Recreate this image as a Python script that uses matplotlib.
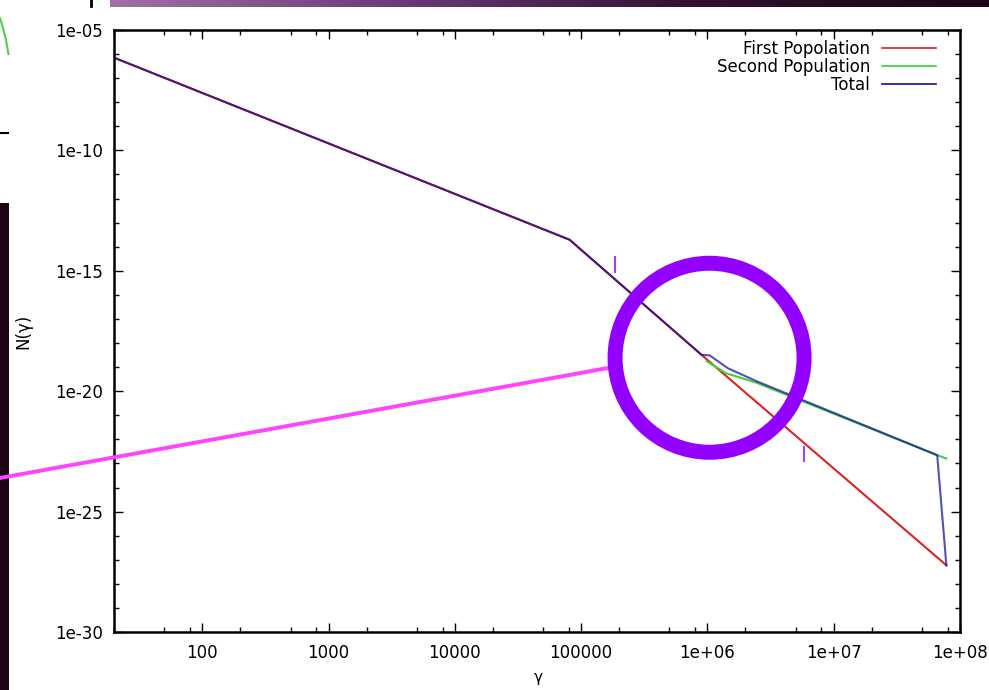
import numpy as np
import matplotlib
matplotlib.use('Agg')
import matplotlib.pyplot as plt
from matplotlib.patches import Ellipse, Rectangle
from matplotlib.lines import Line2D
from matplotlib.colors import LinearSegmentedColormap

# values: gamma vs N(gamma)
first_x = [20, 8.1e4, 9.0e5, 7.8e7]
first_y = [7.1e-7, 1.95e-14, 3.2e-19, 5.9e-28]

second_x = [9.9e5, 1.4e6, 2.45e6, 6.6e7, 7.8e7]
second_y = [1.74e-19, 5.6e-20, 2.24e-20, 2.2e-23, 1.6e-23]

total_x = [20, 8.1e4, 9.0e5, 1.04e6, 1.45e6, 2.45e6, 6.6e7, 7.8e7]
total_y = [7.1e-7, 1.95e-14, 3.2e-19, 3.1e-19, 9.0e-20, 2.6e-20, 2.2e-23, 5.9e-28]

labels = ['First Popolation', 'Second Population', 'Total']

xticks = [1e2, 1e3, 1e4, 1e5, 1e6, 1e7, 1e8]
xticklabels = ['100', '1000', '10000', '100000', '1e+06', '1e+07', '1e+08']
yticks = [1e-30, 1e-25, 1e-20, 1e-15, 1e-10, 1e-5]
yticklabels = ['1e-30', '1e-25', '1e-20', '1e-15', '1e-10', '1e-05']

# spot the circle highlights (data coords)
circle_at = (1.04e6, 2.45e-19)

plt.rcParams['font.family'] = ['DejaVu Sans']
W, H = 989, 690
fig = plt.figure(figsize=(W / 100, H / 100), dpi=100)
fig.patch.set_facecolor('white')

ax = fig.add_axes([114 / W, 58 / H, 846 / W, 602 / H])
ax.set_xscale('log')
ax.set_yscale('log')
ax.set_xlim(20, 1e8)
ax.set_ylim(1e-30, 1e-5)

ax.plot(first_x, first_y, color='#dd2222', lw=1.5, label=labels[0], zorder=2)
ax.plot(second_x, second_y, color='#40d040', lw=1.5, label=labels[1], zorder=3)
ax.plot(total_x, total_y, color='#10109a', lw=1.5, alpha=0.72, label=labels[2], zorder=4)

ax.set_xticks(xticks)
ax.set_xticklabels(xticklabels)
ax.set_yticks(yticks)
ax.set_yticklabels(yticklabels)
ax.xaxis.set_minor_locator(matplotlib.ticker.LogLocator(base=10, subs=(2, 5, 8), numticks=30))
ax.xaxis.set_minor_formatter(matplotlib.ticker.NullFormatter())
ax.yaxis.set_minor_locator(matplotlib.ticker.FixedLocator(
    [10.0 ** k for k in range(-30, -4) if k % 5 != 0]))
ax.yaxis.set_minor_formatter(matplotlib.ticker.NullFormatter())

ax.tick_params(which='both', direction='in', top=True, right=True, width=1.0, labelsize=12)
ax.tick_params(which='major', length=6.5)
ax.tick_params(which='minor', length=3.5)
ax.tick_params(axis='y', pad=8)
ax.tick_params(axis='x', pad=9)
for s in ax.spines.values():
    s.set_linewidth(1.8)

ax.set_ylabel('N(γ)', fontsize=12)
ax.yaxis.set_label_coords((32 - 114) / 846, (632 - 331) / 602)
ax.set_xlabel('γ', fontsize=11)
ax.xaxis.set_label_coords((538 - 114) / 846, (632 - 670) / 602)

leg = ax.legend(loc='upper right', bbox_to_anchor=((936 - 114) / 846, (632 - 40) / 602),
                frameon=False, markerfirst=False, fontsize=12, borderpad=0,
                borderaxespad=0, labelspacing=0.0, handlelength=3.25, handletextpad=0.7)
for h in leg.legend_handles:
    h.set_alpha(1)
    h.set_linewidth(1.2)

# slide decorations around the chart
bar = fig.add_axes([110 / W, 1 - 7 / H, (W - 110) / W, 7 / H])
grad = LinearSegmentedColormap.from_list('bar', ['#a070a8', '#6a3a78', '#30102e', '#1a0512'])
bar.imshow(np.linspace(0, 1, 256)[None, :], aspect='auto', cmap=grad)
bar.set_axis_off()

fig.add_artist(Rectangle((0, 0), 9 / W, (H - 203) / H, transform=fig.transFigure,
                         facecolor='#1c0618', edgecolor='none'))
fig.add_artist(Line2D([0, 3 / W, 6 / W, 8.5 / W], [1 - 18 / H, 1 - 28 / H, 1 - 40 / H, 1 - 54 / H],
                      transform=fig.transFigure, color='#50d050', lw=1.5))
fig.add_artist(Line2D([0, 8 / W], [1 - 133 / H, 1 - 133 / H], transform=fig.transFigure,
                      color='black', lw=1.5))
fig.add_artist(Line2D([91 / W, 91 / W], [1, 1 - 6 / H], transform=fig.transFigure,
                      color='black', lw=2))

# purple ring + pointer line
fig.canvas.draw()
cx, cy = fig.transFigure.inverted().transform(ax.transData.transform(circle_at))
r = 94.5
fig.add_artist(Ellipse((cx, cy), 2 * r / W, 2 * r / H, transform=fig.transFigure,
                       facecolor='none', edgecolor='#9400ff', lw=15 * 72 / 100, zorder=10))
fig.add_artist(Line2D([0, 608 / W], [1 - 478 / H, 1 - 368 / H], transform=fig.transFigure,
                      color='#ff44ff', lw=3 * 72 / 100 * 1.3, zorder=9))
for px, y0, y1 in [(615, 257, 272), (804, 447, 461)]:
    fig.add_artist(Line2D([px / W, px / W], [1 - y0 / H, 1 - y1 / H], transform=fig.transFigure,
                          color='#a040ff', lw=1.5, zorder=9))

fig.savefig('out.png', dpi=100)
